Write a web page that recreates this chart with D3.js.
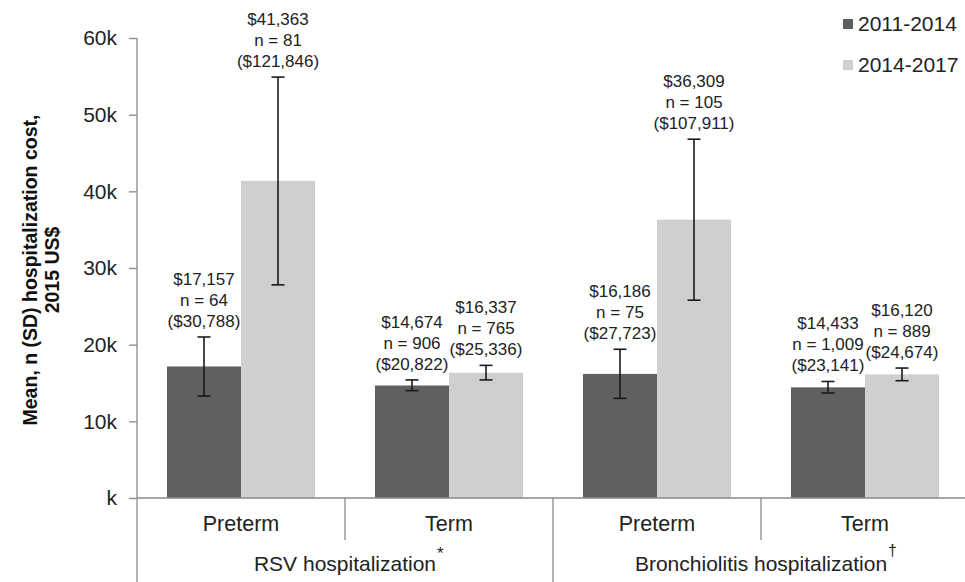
<!DOCTYPE html>
<html>
<head>
<meta charset="utf-8">
<script src="https://cdn.jsdelivr.net/npm/d3@7"></script>
<style>
  html, body { margin: 0; padding: 0; background: #fff; }
  svg { display: block; font-family: "Liberation Sans", Arial, Helvetica, sans-serif; }
</style>
</head>
<body>
<svg id="chart" width="965" height="582"></svg>
<script>
// Hospitalization cost by period, gestational age and hospitalization type
const groups = ["RSV hospitalization", "Bronchiolitis hospitalization"];
const groupMarks = ["*", "\u2020"];
const categories = ["Preterm", "Term", "Preterm", "Term"];
const periods = ["2011-2014", "2014-2017"];

const mean2011 = [17157, 14674, 16186, 14433];
const mean2014 = [41363, 16337, 36309, 16120];
const n2011 = [64, 906, 75, 1009];
const n2014 = [81, 765, 105, 889];
const sd2011 = [30788, 20822, 27723, 23141];
const sd2014 = [121846, 25336, 107911, 24674];

// error bar extents
const errLow2011 = [13300, 14000, 13000, 13700];
const errHigh2011 = [21000, 15400, 19400, 15200];
const errLow2014 = [27800, 15400, 25800, 15300];
const errHigh2014 = [54900, 17300, 46800, 16950];

const yTicks = [0, 10000, 20000, 30000, 40000, 50000, 60000];
const yTickLabels = ["k", "10k", "20k", "30k", "40k", "50k", "60k"];

const colors = { "2011-2014": "#606060", "2014-2017": "#cfcfcf" };
const FONT_AXIS = 21;

const svg = d3.select("#chart");
const W = 965, H = 582;
const plotLeft = 137, plotRight = 969, plotTop = 38, baseY = 498;

svg.append("rect").attr("width", W).attr("height", H).attr("fill", "#fff");

const y = d3.scaleLinear().domain([0, 60000]).range([baseY, plotTop]);
const xCat = d3.scaleBand().domain(d3.range(categories.length)).range([plotLeft, plotRight]);
const xSub = d3.scaleBand().domain(periods).range([0, xCat.bandwidth()]).paddingOuter(0.405);

const rows = [];
categories.forEach((c, i) => {
  rows.push({ i, period: periods[0], mean: mean2011[i], n: n2011[i], sd: sd2011[i], lo: errLow2011[i], hi: errHigh2011[i] });
  rows.push({ i, period: periods[1], mean: mean2014[i], n: n2014[i], sd: sd2014[i], lo: errLow2014[i], hi: errHigh2014[i] });
});

// y axis
const yAxis = d3.axisLeft(y).tickValues(yTicks)
  .tickFormat((d, k) => yTickLabels[k]).tickSize(8).tickPadding(12);
const gy = svg.append("g").attr("transform", `translate(${plotLeft},0)`).call(yAxis);
gy.select(".domain").remove();
gy.selectAll(".tick line").attr("stroke", "#8a8a8a").attr("stroke-width", 1.3);
gy.selectAll(".tick text").attr("font-size", FONT_AXIS).attr("fill", "#222")
  .attr("font-family", "'Liberation Sans', Arial, sans-serif");
svg.append("line").attr("x1", plotLeft).attr("x2", plotLeft).attr("y1", y(60000)).attr("y2", H)
  .attr("stroke", "#8a8a8a").attr("stroke-width", 1.3);

// y axis title
const title = svg.append("text")
  .attr("transform", `translate(0,270) rotate(-90)`)
  .attr("text-anchor", "middle").attr("font-weight", "bold").attr("font-size", 19.5).attr("fill", "#111");
title.append("tspan").attr("x", 0).attr("y", 37).text("Mean, n (SD) hospitalization cost,");
title.append("tspan").attr("x", 0).attr("y", 59).text("2015 US$");

// bars
svg.append("g").selectAll("rect").data(rows).join("rect")
  .attr("x", d => xCat(d.i) + xSub(d.period))
  .attr("width", xSub.bandwidth())
  .attr("y", d => y(d.mean))
  .attr("height", d => y(0) - y(d.mean))
  .attr("fill", d => colors[d.period]);

// error bars
const cx = d => xCat(d.i) + xSub(d.period) + xSub.bandwidth() / 2;
const eb = svg.append("g").attr("stroke", "#1a1a1a").attr("stroke-width", 1.6);
eb.selectAll("line.v").data(rows).join("line").attr("class", "v")
  .attr("x1", cx).attr("x2", cx).attr("y1", d => y(d.lo)).attr("y2", d => y(d.hi));
["lo", "hi"].forEach(k => {
  eb.selectAll("line." + k).data(rows).join("line").attr("class", k)
    .attr("x1", d => cx(d) - 6.5).attr("x2", d => cx(d) + 6.5)
    .attr("y1", d => y(d[k])).attr("y2", d => y(d[k]));
});

// value labels
const fmt = d3.format(",");
const lab = svg.append("g").attr("font-size", 17).attr("fill", "#222").attr("text-anchor", "middle");
rows.forEach(d => {
  const base = y(d.hi) - 10;
  const t = lab.append("text");
  const lines = ["$" + fmt(d.mean), "n = " + fmt(d.n), "($" + fmt(d.sd) + ")"];
  lines.forEach((s, k) => {
    t.append("tspan").attr("x", cx(d)).attr("y", base - (2 - k) * 21).text(s);
  });
});

// x axis with category and group separators
const axisColor = "#8a8a8a";
svg.append("line").attr("x1", plotLeft).attr("x2", plotRight).attr("y1", baseY).attr("y2", baseY)
  .attr("stroke", axisColor).attr("stroke-width", 1.3);
categories.forEach((c, i) => {
  if (i > 0) {
    const x = xCat(i);
    const full = i % 2 === 0;
    svg.append("line").attr("x1", x).attr("x2", x).attr("y1", baseY).attr("y2", full ? H : 540)
      .attr("stroke", axisColor).attr("stroke-width", 1.3);
  }
  svg.append("text").attr("x", xCat(i) + xCat.bandwidth() / 2).attr("y", 531)
    .attr("text-anchor", "middle").attr("font-size", 21.5).attr("fill", "#222").text(c);
});

// group labels, each centred under its two categories with a raised footnote mark
groups.forEach((g, k) => {
  const gx = xCat(k * 2) + xCat.bandwidth();
  const t = svg.append("text").attr("x", gx).attr("y", 571)
    .attr("text-anchor", "middle").attr("font-size", 21).attr("fill", "#222").text(g);
  const w = t.node().getComputedTextLength();
  svg.append("text").attr("x", gx + w / 2 + 1).attr("y", k === 0 ? 559 : 556)
    .attr("font-size", k === 0 ? 17 : 16).attr("fill", "#222").text(groupMarks[k]);
});

// legend
const lg = svg.append("g");
periods.forEach((p, k) => {
  const yy = 19 + k * 41;
  lg.append("rect").attr("x", 843).attr("y", yy).attr("width", 10).attr("height", 10).attr("fill", colors[p]);
  lg.append("text").attr("x", 858).attr("y", yy + 12).attr("font-size", 21).attr("fill", "#222").text(p);
});
</script>
</body>
</html>
